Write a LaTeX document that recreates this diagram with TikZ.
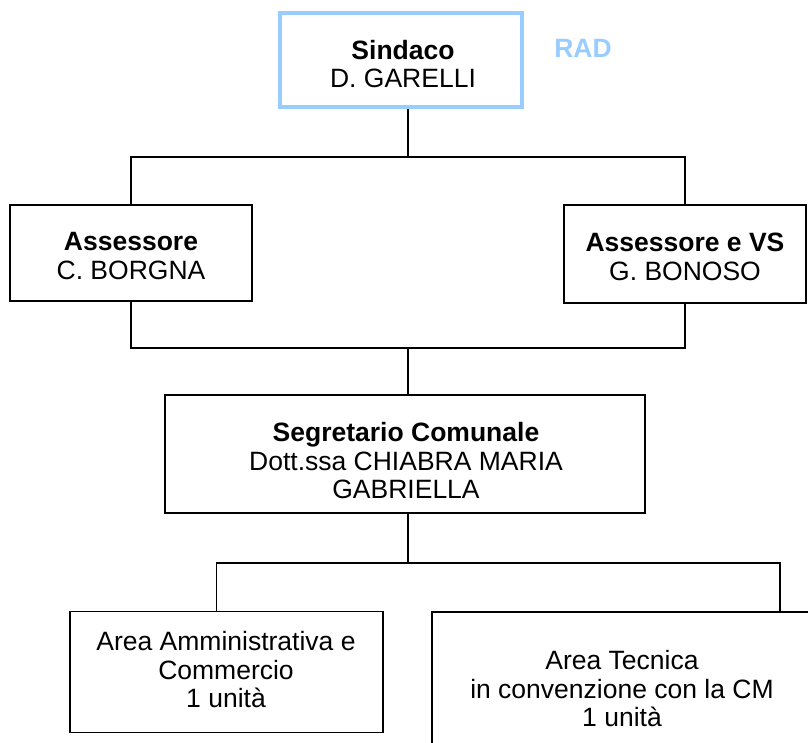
\documentclass[tikz,border=0pt]{standalone}
\usepackage{fontspec}
\setmainfont{Liberation Sans}
\definecolor{lblue}{HTML}{99CCFF}
\begin{document}
\begin{tikzpicture}[x=1pt,y=-1pt,
  box/.style={draw, line width=1.3pt, inner sep=0pt},
  txt/.style={align=center, inner sep=0pt, font=\fontsize{26.5}{28.5}\selectfont},
  conn/.style={line width=1.3pt}]
\useasboundingbox (0,0) rectangle (808,742);
% boxes
\node[box, draw=lblue, line width=3.2pt, minimum width=242pt, minimum height=94pt] (sind) at (401,60) {};
\node[txt] (sindT) at (403,64) {\textbf{Sindaco}\\D. GARELLI};
\node[txt, text=lblue, font=\bfseries\fontsize{26.5}{28.5}\selectfont] (rad) at (583,48) {RAD};
\node[box, minimum width=242pt, minimum height=96pt] (assL) at (131,253) {};
\node[txt] (assLT) at (131,256) {\textbf{Assessore}\\C. BORGNA};
\node[box, minimum width=242pt, minimum height=98pt] (assR) at (685,254) {};
\node[txt] (assRT) at (685,257) {\textbf{Assessore e VS}\\G. BONOSO};
\node[box, minimum width=480pt, minimum height=118pt] (seg) at (405,454) {};
\node[txt] (segT) at (406,461) {\textbf{Segretario Comunale}\\Dott.ssa CHIABRA MARIA\\GABRIELLA};
\node[box, minimum width=313pt, minimum height=121pt] (areaA) at (226.5,672) {};
\node[txt] (areaAT) at (226,670) {Area Amministrativa e\\Commercio\\1 unità};
\node[txt] (areaT) at (622,689) {Area Tecnica\\in convenzione con la CM\\1 unità};
\coordinate (tl) at (432,612);
\coordinate (tbl) at (432,745);
\coordinate (ttr) at (810,612);
\draw[conn] (tbl) -- (tl) -- (ttr);
% connectors
\coordinate (j1) at (408,157);
\coordinate (j2) at (408,348);
\coordinate (j3) at (408,563);
\coordinate (tN) at (780,612);
\draw[conn] (j1 |- sind.south) -- (j1);
\draw[conn] (assL.north) |- (j1) -| (assR.north);
\draw[conn] (assL.south) |- (j2) -| (assR.south);
\draw[conn] (j2) -- (j2 |- seg.north);
\draw[conn] (j3 |- seg.south) -- (j3);
\draw[conn] ([xshift=-10pt]areaA.north) |- (j3) -| (tN);
\end{tikzpicture}
\end{document}
